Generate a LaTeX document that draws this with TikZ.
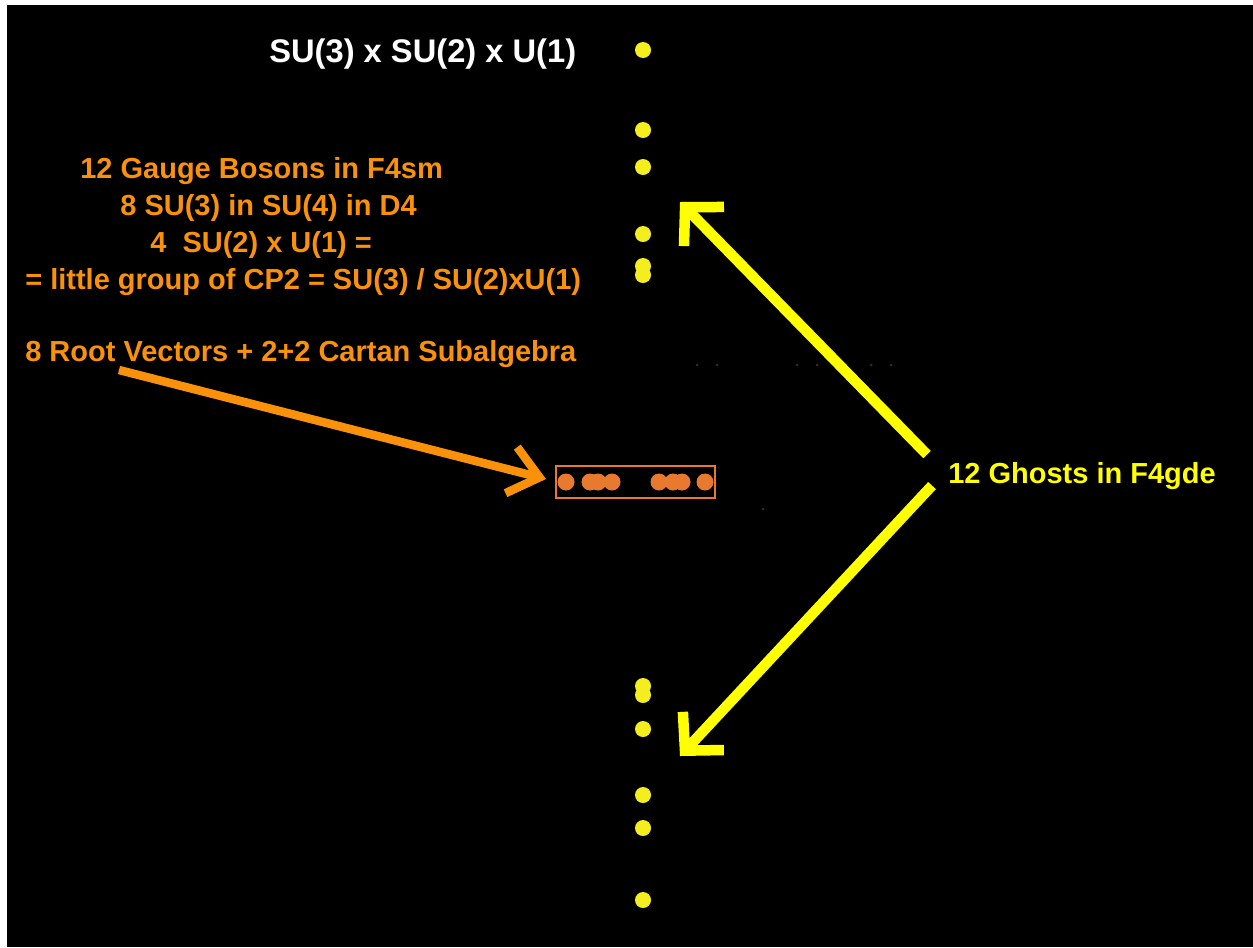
\documentclass[tikz,border=0pt]{standalone}
\usepackage{fontspec}
\setmainfont{Liberation Sans}
\usetikzlibrary{arrows.meta}
\definecolor{orangetxt}{RGB}{250,145,10}
\definecolor{orangeboite}{RGB}{232,122,48}
\definecolor{jaune}{RGB}{255,255,0}
\definecolor{jaunept}{RGB}{245,238,30}
\definecolor{trace}{RGB}{70,38,10}
\begin{document}
\begin{tikzpicture}[x=0.02cm, y=-0.02cm,
  etiq/.style={anchor=base west, inner sep=0pt, font=\bfseries\fontsize{16.5}{20}\selectfont},
  fleche/.style={line width=0.21cm, -{Straight Barb[length=0.54cm, width=1.12cm]}}]
  % Fond (bord blanc a gauche et en haut)
  \fill[white] (0,0) rectangle (1253,947);
  \fill[black] (7,5) rectangle (1253,947);
  \useasboundingbox (0,0) rectangle (1253,947);
  % Titre du groupe
  \node[etiq, white, font=\bfseries\fontsize{18.6}{22}\selectfont] (groupe) at (269,62) {SU(3) x SU(2) x U(1)};
  % Texte orange a gauche
  \node[etiq, orangetxt] (bosons) at (80,178) {12 Gauge Bosons in F4sm};
  \node[etiq, orangetxt] (sutrois) at (120,215) {8 SU(3) in SU(4) in D4};
  \node[etiq, orangetxt] (sudeux) at (150,252) {4~~SU(2) x U(1) =};
  \node[etiq, orangetxt] (petit) at (25,289) {= little group of CP2 = SU(3) / SU(2)xU(1)};
  \node[etiq, orangetxt] (racines) at (25,361) {8 Root Vectors + 2+2 Cartan Subalgebra};
  % Texte jaune a droite
  \node[etiq, jaune] (fantomes) at (948,483) {12 Ghosts in F4gde};
  % Points jaunes sur l'axe
  \fill[jaunept] (643,50) circle (8);
  \fill[jaunept] (643,130) circle (8);
  \fill[jaunept] (643,167) circle (8);
  \fill[jaunept] (643,234) circle (8);
  \fill[jaunept] (643,266) circle (8);
  \fill[jaunept] (643,275) circle (8);
  \fill[jaunept] (643,686) circle (8);
  \fill[jaunept] (643,695) circle (8);
  \fill[jaunept] (643,729) circle (8);
  \fill[jaunept] (643,795) circle (8);
  \fill[jaunept] (643,828) circle (8);
  \fill[jaunept] (643,900) circle (8);
  % Boite de Cartan avec ses points
  \node[draw=orangeboite, line width=0.04cm, minimum width=159*0.02cm, minimum height=32*0.02cm, inner sep=0pt] (boite) at (635.5,482) {};
  \fill[orangeboite] (566,482) circle (8.5);
  \fill[orangeboite] (590,482) circle (8.5);
  \fill[orangeboite] (598,482) circle (8.5);
  \fill[orangeboite] (612,482) circle (8.5);
  \fill[orangeboite] (659,482) circle (8.5);
  \fill[orangeboite] (673,482) circle (8.5);
  \fill[orangeboite] (682,482) circle (8.5);
  \fill[orangeboite] (705,482) circle (8.5);
  % Traces a peine visibles
  \fill[trace] (697,365) circle (1.5) (717,365) circle (1.5) (797,365) circle (1.5)
    (817,365) circle (1.5) (871,365) circle (1.5) (891,365) circle (1.5);
  \fill[trace] (763,509) circle (1.5);
  % Fleche orange vers la boite
  \coordinate (depart) at (119,370);
  \coordinate (pointe) at (546,479);
  \draw[fleche, orangetxt, line width=0.17cm, -{Straight Barb[length=0.58cm, width=0.95cm]}] (depart) -- (pointe);
  % Fleches jaunes depuis les fantomes
  \coordinate (haut) at (680,202);
  \coordinate (bas) at (680,756);
  \draw[fleche, jaune] (fantomes.west) ++(-21,-21) -- (haut);
  \draw[fleche, jaune] (fantomes.west) ++(-16,10) -- (bas);
\end{tikzpicture}
\end{document}
